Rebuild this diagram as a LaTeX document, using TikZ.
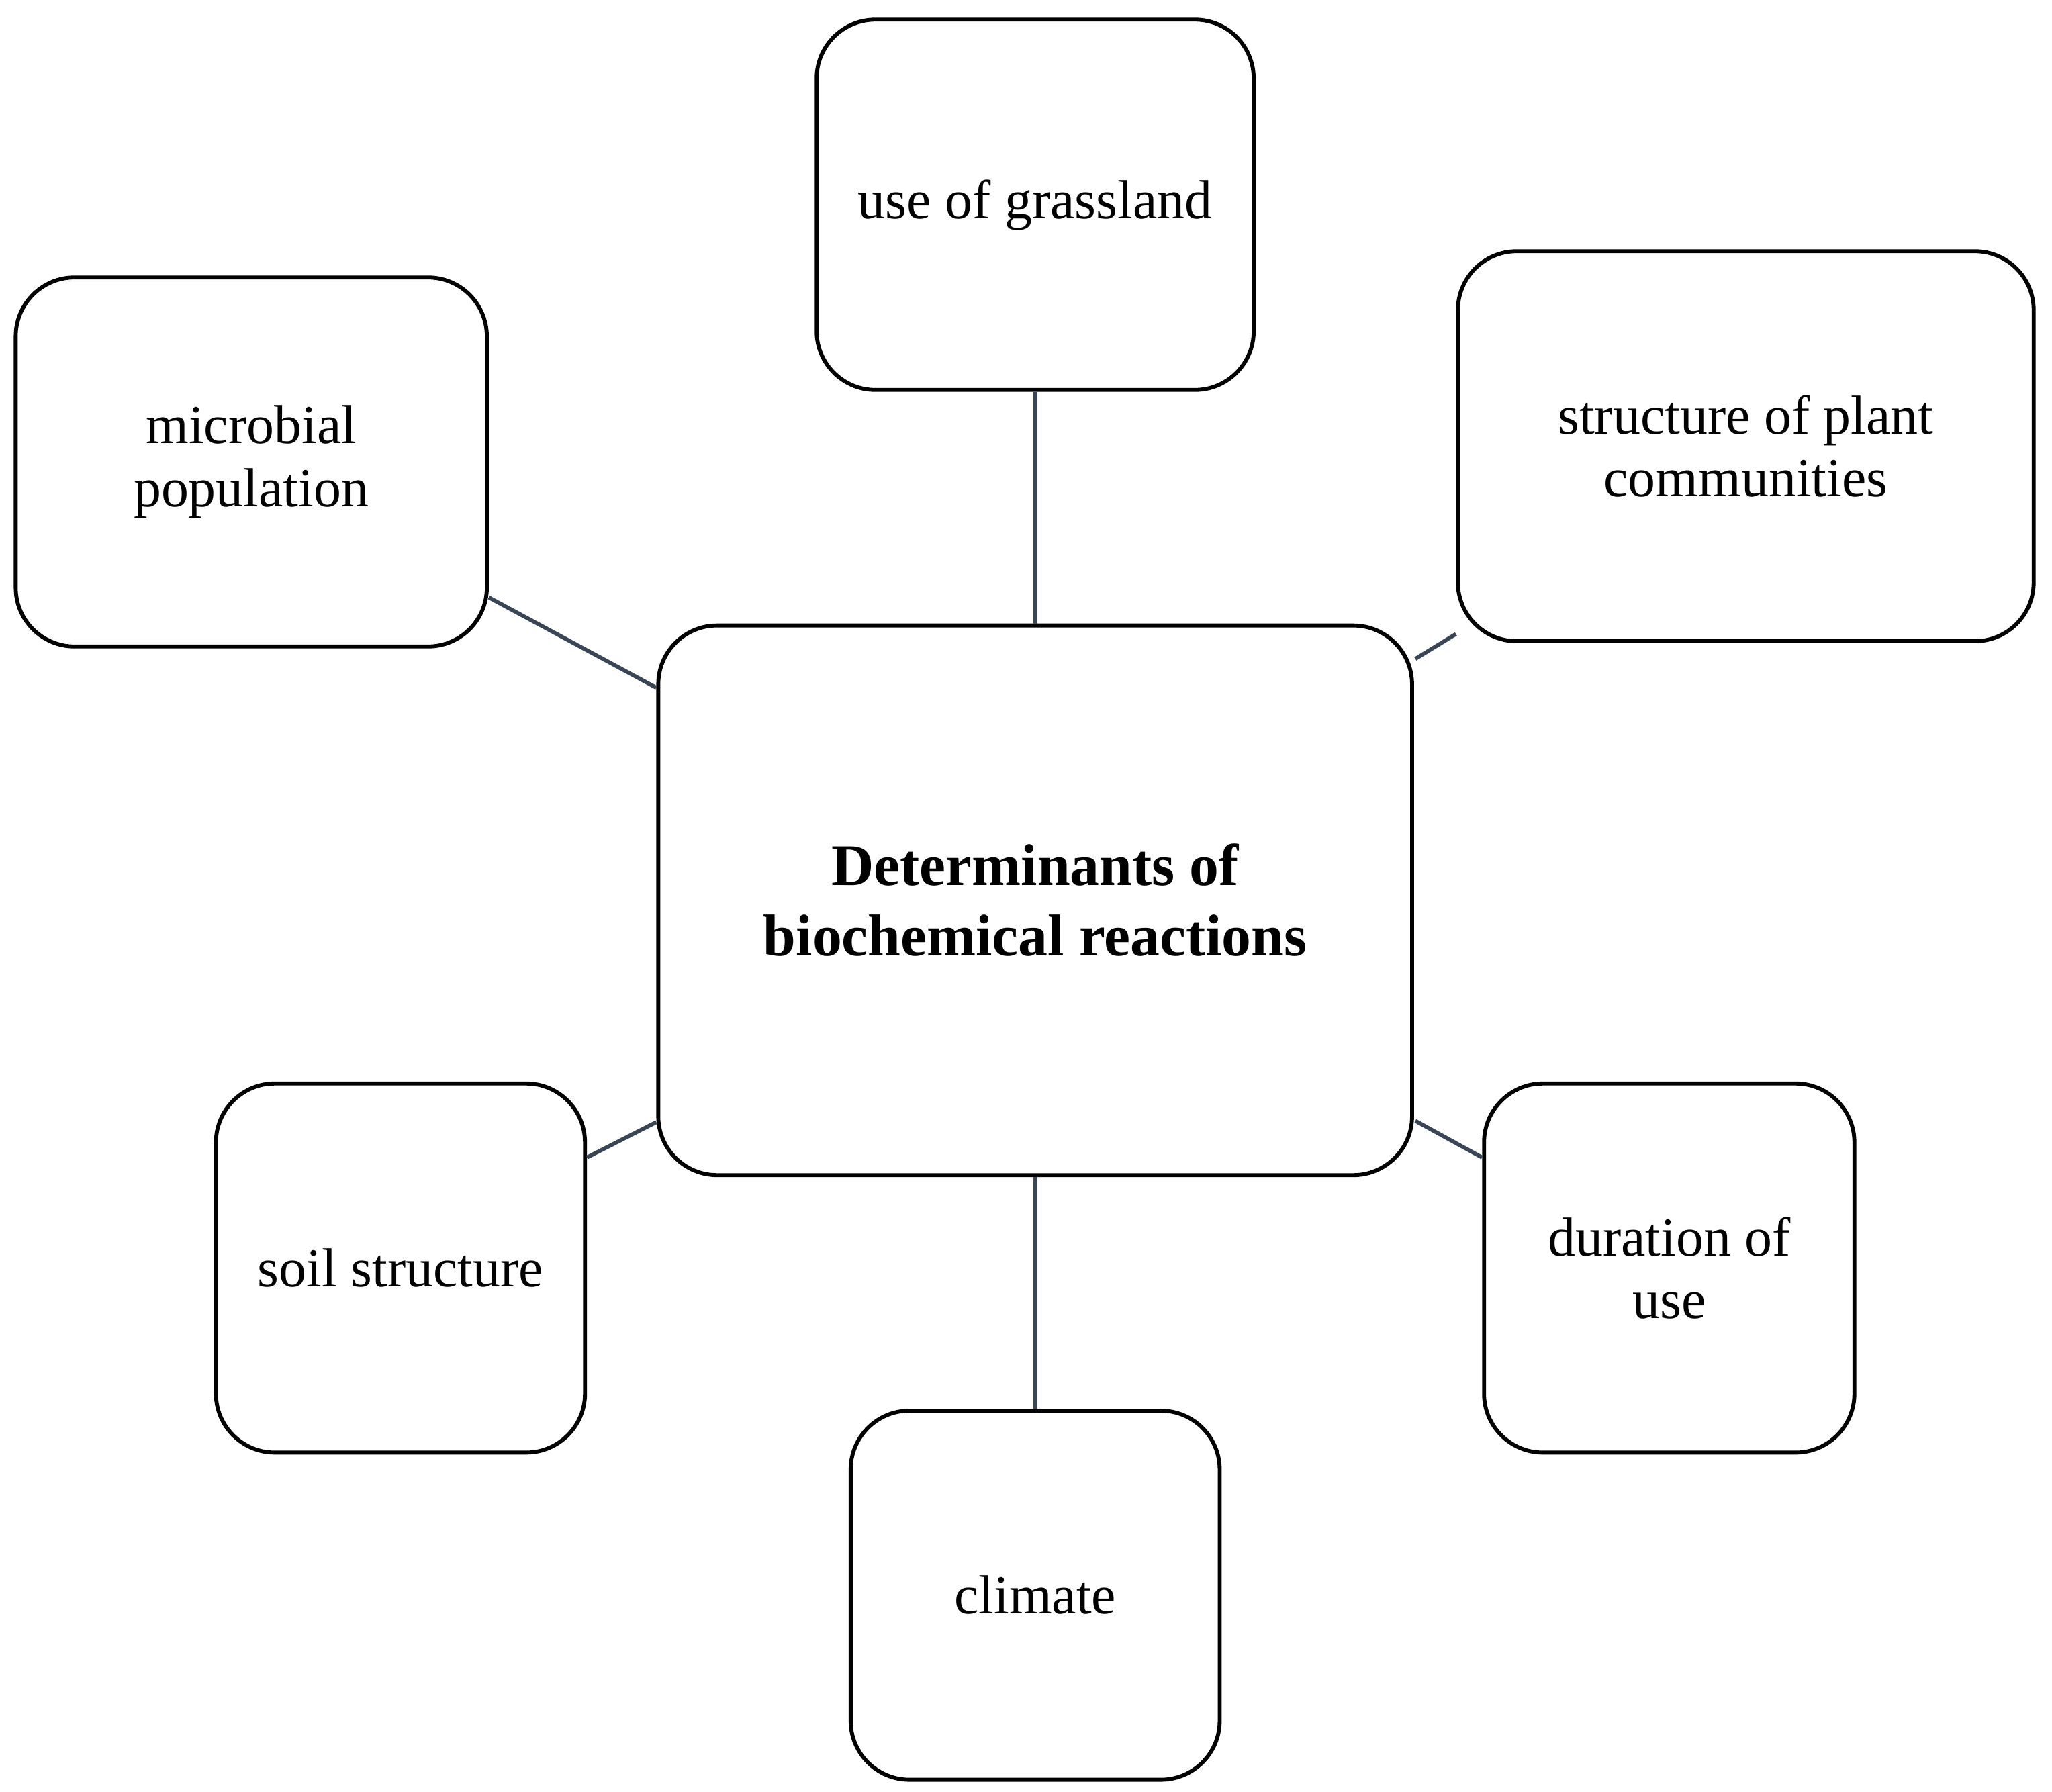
\documentclass[tikz,border=0pt]{standalone}
\usepackage{fontspec}
\setmainfont{Liberation Serif}
\usetikzlibrary{calc}
\begin{document}
\begin{tikzpicture}[x=1pt,y=-1pt,
  box/.style={draw=black,line width=3pt,rounded corners=45pt,align=center,inner sep=0pt,
    font=\fontsize{42}{48}\selectfont},
  link/.style={draw={rgb,255:red,58;green,70;blue,86},line width=3pt}]
\useasboundingbox (0,0) rectangle (1568,1369);
\node[box,minimum width=334pt,minimum height=283pt] (g) at (791,156.5) {use of grassland};
\node[box,minimum width=360pt,minimum height=282pt] (m) at (192,353) {microbial\\population};
\node[box,minimum width=440pt,minimum height=298pt] (p) at (1334,341) {structure of plant\\communities};
\node[box,minimum width=576pt,minimum height=420pt,font=\bfseries\fontsize{45}{54}\selectfont] (c) at (791,688) {Determinants of\\biochemical reactions};
\node[box,minimum width=282pt,minimum height=282pt] (s) at (306,969) {soil structure};
\node[box,minimum width=283pt,minimum height=282pt] (d) at (1275.5,969) {duration of\\use};
\node[box,minimum width=282pt,minimum height=282pt] (k) at (791,1219) {climate};
\draw[link] (g.south) -- (c.north);
\draw[link] (c.south) -- (k.north);
\draw[link] ([yshift=39pt]m.south east) -- ([yshift=-49pt]c.north west);
\draw[link] ([yshift=7pt]p.south west) -- ([xshift=1pt,yshift=-27pt]c.north east);
\draw[link] ([yshift=-58pt]s.north east) -- ([yshift=42pt]c.south west);
\draw[link] ([yshift=-58pt]d.north west) -- ([xshift=1pt,yshift=43pt]c.south east);
\end{tikzpicture}
\end{document}
